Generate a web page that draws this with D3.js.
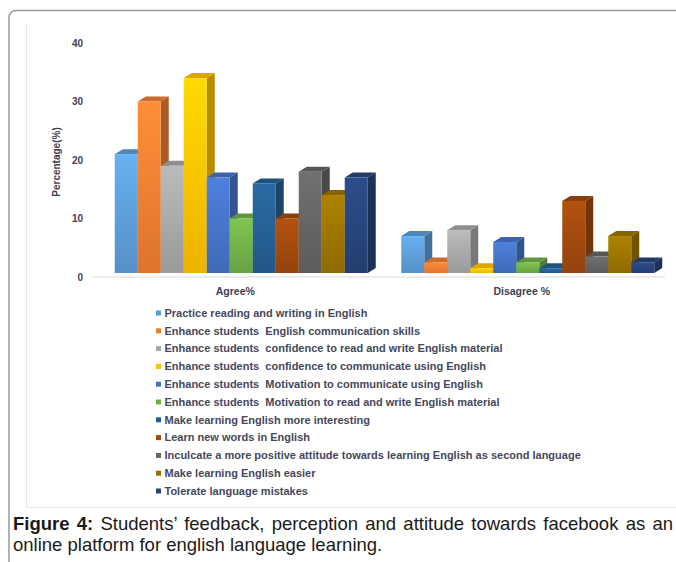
<!DOCTYPE html>
<html>
<head>
<meta charset="utf-8">
<script src="https://cdn.jsdelivr.net/npm/d3@7"></script>
<style>
  html, body { margin: 0; padding: 0; background: #fff; }
  svg { display: block; }
</style>
</head>
<body>
<svg id="chart" width="676" height="562"></svg>
<script>
// Survey categories and responses (percent)
const categories = ["Agree%", "Disagree %"];
const items = [
  "Practice reading and writing in English",
  "Enhance students  English communication skills",
  "Enhance students  confidence to read and write English material",
  "Enhance students  confidence to communicate using English",
  "Enhance students  Motivation to communicate using English",
  "Enhance students  Motivation to read and write English material",
  "Make learning English more interesting",
  "Learn new words in English",
  "Inculcate a more positive attitude towards learning English as second language",
  "Make learning English easier",
  "Tolerate language mistakes"
];
const agree    = [21, 30, 19, 34, 17, 10, 16, 10, 18, 14, 17];
const disagree = [7, 2.5, 8, 1.5, 6, 2.5, 1.5, 13, 3.5, 7, 2.5];
const yTicks = [0, 10, 20, 30, 40];
const colors = ["#5B9BD5", "#ED7D31", "#A5A5A5", "#FFC000", "#4472C4", "#70AD47",
                "#255E91", "#9E480E", "#636363", "#997300", "#264478"];

const series = [agree, disagree];
const FONT = "Liberation Sans, Arial, sans-serif";

const svg = d3.select("#chart");

// outer rounded frame
svg.append("rect")
  .attr("x", 9).attr("y", 10.5)
  .attr("width", 700).attr("height", 600)
  .attr("rx", 7)
  .attr("fill", "none").attr("stroke", "#9a9a9a").attr("stroke-width", 1.5);

// inner chart frame (left + bottom edges)
svg.append("path")
  .attr("d", "M26.5,25 V507.5 H676")
  .attr("fill", "none").attr("stroke", "#e3e3ef").attr("stroke-width", 1);

const y = d3.scaleLinear().domain([0, 40]).range([277, 43]);
const x0 = d3.scaleBand().domain(categories).range([92, 665]);
const bw = 23, dx = 8, dy = 5, floorLift = 4;
const groupOffset = 6; // bars sit slightly right of the band centre (3D skew)

// y axis labels
const yAxis = d3.axisLeft(y).tickValues(yTicks).tickSize(0).tickPadding(0).tickFormat(d3.format("d"));
const gy = svg.append("g").attr("transform", "translate(83,0)").call(yAxis);
gy.select(".domain").remove();
gy.selectAll("text")
  .attr("font-family", FONT)
  .attr("font-size", 10).attr("font-weight", "bold").attr("fill", "#3f4152");

svg.append("text")
  .attr("transform", "translate(60,162) rotate(-90)")
  .attr("text-anchor", "middle")
  .attr("font-family", FONT)
  .attr("font-size", 10).attr("font-weight", "bold").attr("fill", "#3f4152")
  .text("Percentage(%)");

// floor line
svg.append("line")
  .attr("x1", 92).attr("x2", 665).attr("y1", 277).attr("y2", 277)
  .attr("stroke", "#d9d9d9").attr("stroke-width", 1);

// x axis category labels
const xAxis = d3.axisBottom(x0).tickSize(0).tickPadding(0);
const gx = svg.append("g").attr("transform", "translate(0,288)").call(xAxis);
gx.select(".domain").remove();
gx.selectAll("text")
  .attr("font-family", FONT)
  .attr("font-size", 10.5).attr("font-weight", "bold").attr("fill", "#3f4152");

// gradients for front faces
const defs = svg.append("defs");
colors.forEach((c, i) => {
  const g = defs.append("linearGradient").attr("id", "grad" + i)
    .attr("x1", 0).attr("y1", 0).attr("x2", 0).attr("y2", 1)
    .attr("gradientUnits", "objectBoundingBox");
  g.append("stop").attr("offset", "0%").attr("stop-color", d3.color(c).brighter(0.35));
  g.append("stop").attr("offset", "100%").attr("stop-color", d3.color(c).darker(0.2));
});

// 3D bars
const x1 = d3.scaleBand().domain(d3.range(items.length)).range([0, bw * items.length]);
categories.forEach((cat, ci) => {
  const left = x0(cat) + x0.bandwidth() / 2 - bw * items.length / 2 + groupOffset;
  const g = svg.append("g");
  items.forEach((it, i) => {
    const v = series[ci][i];
    const xl = left + x1(i), xr = xl + bw;
    const yt = y(v), yb = y(0) - floorLift;
    const c = d3.color(colors[i]);
    // side face
    g.append("path")
      .attr("d", `M${xr},${yt} L${xr + dx},${yt - dy} L${xr + dx},${yb - dy} L${xr},${yb} Z`)
      .attr("fill", c.darker(0.9));
    // top face
    g.append("path")
      .attr("d", `M${xl},${yt} L${xl + dx},${yt - dy} L${xr + dx},${yt - dy} L${xr},${yt} Z`)
      .attr("fill", c.darker(0.4));
    // front face
    g.append("rect")
      .attr("x", xl).attr("y", yt).attr("width", bw).attr("height", yb - yt)
      .attr("fill", `url(#grad${i})`);
  });
});

// legend
const legend = svg.append("g");
items.forEach((it, i) => {
  const ly = 313 + i * 17.8;
  legend.append("rect")
    .attr("x", 156).attr("y", ly - 2.5).attr("width", 5).attr("height", 5)
    .attr("fill", colors[i]);
  legend.append("text")
    .attr("x", 164.5).attr("y", ly + 3.8)
    .attr("font-family", FONT)
    .attr("font-size", 11).attr("font-weight", "bold").attr("fill", "#45485c")
    .style("white-space", "pre")
    .text(it);
});

// caption: first line justified to the frame width, second line ragged
const capLeft = 13, capRight = 673;
const cap1 = svg.append("text").attr("x", capLeft).attr("y", 530)
  .attr("font-family", FONT).attr("font-size", 18.5).attr("fill", "#1a1a1a");
cap1.append("tspan").attr("font-weight", "bold").text("Figure 4:");
cap1.append("tspan").text(" Students\u2019 feedback, perception and attitude towards facebook as an");
const gaps = 10;
const natural = cap1.node().getComputedTextLength();
cap1.attr("word-spacing", Math.max(0, (capRight - capLeft - natural) / gaps));
svg.append("text").attr("x", capLeft).attr("y", 551)
  .attr("font-family", FONT).attr("font-size", 18.5).attr("fill", "#1a1a1a")
  .text("online platform for english language learning.");
</script>
</body>
</html>
